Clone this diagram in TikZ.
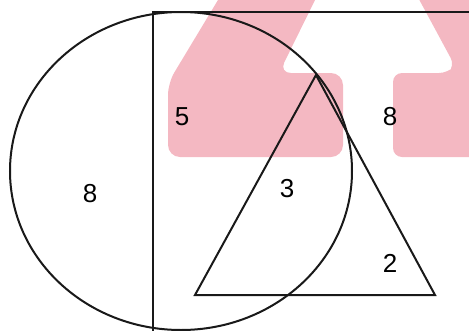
\documentclass[tikz,border=0pt]{standalone}
\usepackage{fontspec}
\setmainfont{Liberation Sans}
\definecolor{markpink}{RGB}{244, 184, 194}
\usepackage{tikz}
\usetikzlibrary{positioning,calc}

\tikzset{
    region/.style={inner sep=0pt,font=\fontsize{26}{26}\selectfont},
    outline/.style={line width=2pt,black!90}
}

\begin{document}
\begin{tikzpicture}[x=1pt,y=-1pt]
    \useasboundingbox (0,0) rectangle (469,330);
    \clip (0,0) rectangle (469,330);
    % watermark behind the figure
    \fill[markpink,rounded corners=12pt] (224,-10) -- (320,-10) -- (279,73) -- (343,73)
        -- (343,157) -- (168,157) -- (168,83) -- cycle;
    \fill[markpink,rounded corners=9pt] (414,-10) -- (455,66) -- (448,73) -- (393,73)
        -- (393,157) -- (485,157) -- (485,-10) -- cycle;
    % corners of the box and the triangle
    \coordinate (boxtl) at (153,12);
    \coordinate (boxtr) at (475,12);
    \coordinate (boxbl) at (153,340);
    \coordinate (apex) at (316,75);
    \coordinate (baseL) at (195,295);
    \coordinate (baseR) at (435,295);
    \draw[outline] (181,171) ellipse [x radius=171, y radius=159];
    \draw[outline] (boxtr) -- (boxtl) -- (boxbl);
    \draw[outline,line join=miter] (apex) -- (baseL) -- (baseR) -- cycle;
    % counts in each region
    \node[region] (lonecirc) at (90,194) {8};
    \node[region] (circbox) at (182,117) {5};
    \node[region] (allthree) at (287,189) {3};
    \node[region] (lonebox) at (390,117) {8};
    \node[region] (tribox) at (390,263) {2};
\end{tikzpicture}
\end{document}
